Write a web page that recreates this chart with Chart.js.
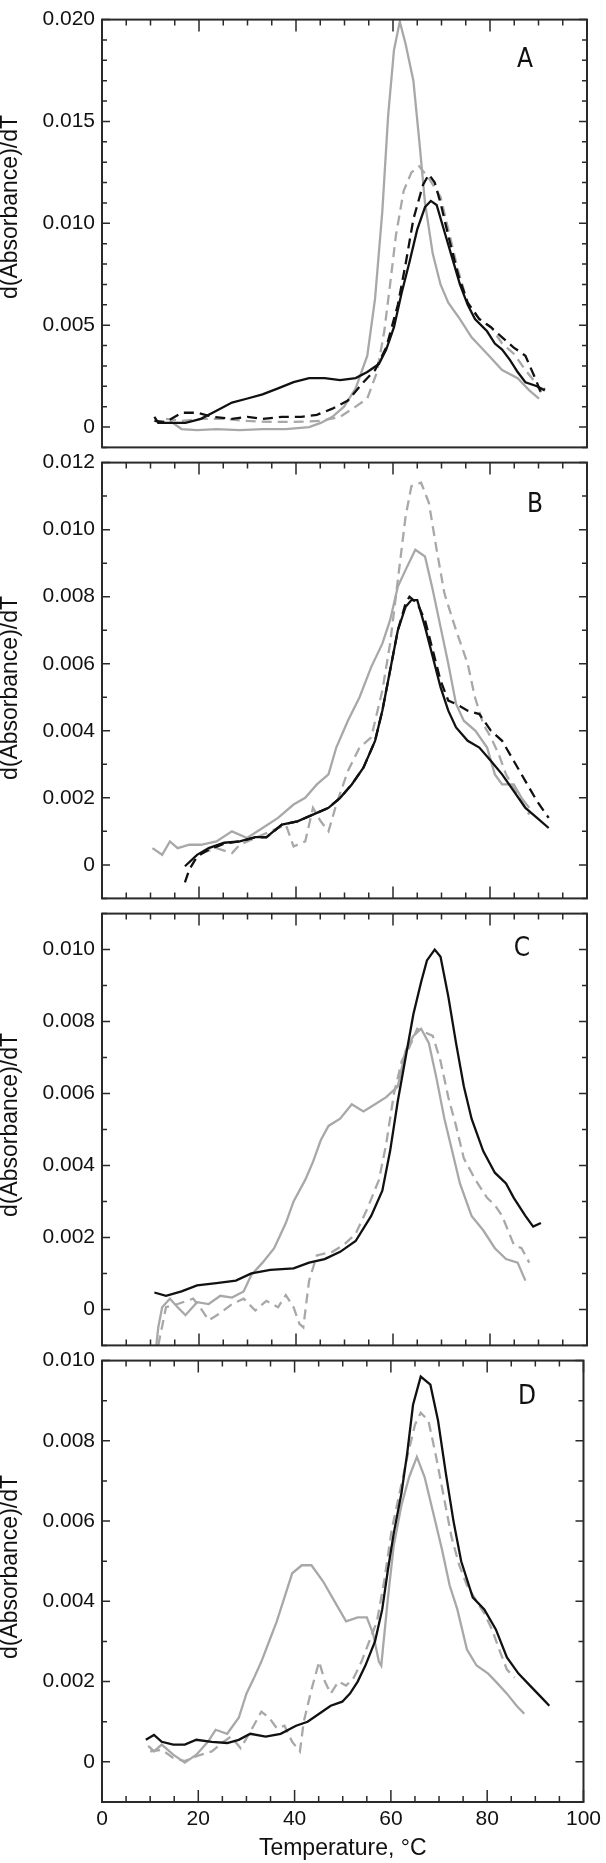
<!DOCTYPE html>
<html>
<head>
<meta charset="utf-8">
<script src="https://cdn.jsdelivr.net/npm/chart.js@4.4.0/dist/chart.umd.min.js"></script>
<style>
  body { margin: 0; background: #fff; }
  #wrap { position: relative; width: 606px; height: 1863px; }
  canvas { position: absolute; left: 0; }
</style>
</head>
<body>
<div id="wrap">
  <canvas id="panelA" width="606" height="467" style="top:0px"></canvas>
  <canvas id="panelB" width="606" height="475" style="top:443px"></canvas>
  <canvas id="panelC" width="606" height="471" style="top:894px"></canvas>
  <canvas id="panelD" width="606" height="522" style="top:1341px"></canvas>
</div>
<script>
// [temperature °C, d(Absorbance)/dT]

// panel A
const aBlack = [[10.8,0.0005],[11.6,0.0002],[14.8,0.0002],[17.2,0.0002],[20.4,0.0004],[23.6,0.0008],[26.8,0.0012],[30,0.0014],[33.1,0.0016],[36.3,0.0019],[39.5,0.0022],[42.7,0.0024],[45.9,0.0024],[49.1,0.0023],[52.3,0.0024],[54.7,0.0027],[57.1,0.0031],[58.6,0.0038],[60.2,0.0049],[61.8,0.0066],[63.4,0.0081],[65,0.0097],[66.6,0.0108],[67.8,0.0111],[69,0.0109],[70.6,0.0096],[72.2,0.0083],[73.8,0.0070],[75.4,0.0060],[76.9,0.0053],[79.4,0.0047],[81,0.0041],[82.5,0.0038],[84.1,0.0033],[85.7,0.0027],[87.3,0.0022],[89.7,0.0020],[91.3,0.0018]];
const aBlackDash = [[10.8,0.0003],[13.2,0.00025],[16.4,0.0007],[19.6,0.0007],[22.8,0.0005],[26.8,0.0004],[30,0.0005],[33.1,0.0004],[37.1,0.0005],[41.1,0.0005],[44.3,0.0006],[47.5,0.0009],[50.7,0.0013],[53.9,0.0022],[56.3,0.0028],[58.6,0.0039],[61,0.0060],[62.6,0.0080],[64.2,0.0102],[66.2,0.0119],[67.4,0.0124],[68.6,0.0120],[69.8,0.0110],[71.4,0.0094],[73.4,0.0075],[75.4,0.0061],[77.8,0.0053],[80.2,0.0049],[82.5,0.0044],[84.9,0.0039],[87.3,0.0035],[89.3,0.0024],[90.5,0.0017],[91.3,0.0019]];
const aGray = [[14,0.0003],[16.4,-0.0001],[19.6,-0.00015],[23.6,-0.0001],[28.4,-0.00015],[33.1,-0.0001],[37.9,-0.0001],[42.7,0],[45.1,0.0002],[47.5,0.0005],[49.9,0.0010],[52.3,0.0019],[54.7,0.0035],[56.3,0.0063],[57.8,0.0106],[59,0.0153],[60.2,0.0185],[61.4,0.0199],[62.6,0.0188],[64.2,0.0170],[65.4,0.0141],[66.6,0.0110],[68.2,0.0085],[69.8,0.0070],[71.4,0.0061],[73.8,0.0053],[76.2,0.0044],[79.4,0.0036],[82.5,0.0028],[85.7,0.0024],[88.1,0.0018],[90.1,0.0014]];
const aGrayDash = [[13.2,0.0004],[16.4,0.0003],[20.4,0.0004],[25.2,0.0004],[30,0.0003],[34.7,0.00025],[39.5,0.00025],[45.1,0.0003],[49.1,0.0005],[52.3,0.0010],[54.7,0.0014],[56.7,0.0027],[58.2,0.0047],[59.4,0.0070],[60.6,0.0094],[62.2,0.0116],[63.8,0.0125],[65.4,0.0128],[67.4,0.0122],[69.8,0.0113],[71.4,0.0097],[73.4,0.0077],[75.4,0.0061],[77.8,0.0053],[80.2,0.0049],[82.5,0.0041],[84.9,0.0036],[87.3,0.0028],[89.3,0.0022],[90.5,0.0017]];

// panel B
const bBlack = [[17.1,-0.00004],[19.6,0.0003],[22,0.0005],[25.2,0.00066],[28.4,0.0007],[31.6,0.00083],[33.9,0.00083],[37.1,0.0012],[40.3,0.0013],[43.5,0.0015],[46.7,0.0017],[49.1,0.0020],[51.5,0.0024],[53.9,0.0029],[56.3,0.0037],[57.8,0.0046],[59.4,0.0058],[61,0.0070],[62.6,0.0077],[63.8,0.0079],[65,0.0079],[66.6,0.0071],[68.2,0.0062],[69.8,0.0053],[71.4,0.0046],[73,0.0041],[75.4,0.0037],[77.8,0.0035],[80.2,0.0031],[82.5,0.0027],[84.9,0.0022],[87.3,0.0017],[89.7,0.0014],[92.1,0.0011]];
const bBlackDash = [[17.1,-0.00052],[18,-0.00014],[19.6,0.00025],[22,0.00045],[25.2,0.00063],[28.4,0.0007],[31.6,0.00082],[33.9,0.00082],[37.1,0.0012],[40.3,0.0013],[43.5,0.0015],[46.7,0.0017],[49.1,0.0020],[51.5,0.0024],[53.9,0.0029],[56.3,0.0037],[57.8,0.0046],[59.4,0.0058],[61,0.0070],[62.6,0.0078],[63.4,0.0080],[65,0.0078],[66.6,0.0073],[68.2,0.0064],[69.8,0.0055],[71.4,0.0049],[73,0.0048],[75.4,0.0046],[77.8,0.0045],[80.2,0.0040],[82.5,0.0037],[84.9,0.0031],[87.3,0.0025],[89.7,0.0019],[92.1,0.0014]];
const bGray = [[10.4,0.0005],[12.4,0.0003],[14,0.0007],[15.6,0.0005],[18,0.0006],[20.4,0.0006],[23.6,0.0007],[26.8,0.0010],[29.9,0.0008],[33.1,0.0011],[36.3,0.0014],[39.5,0.0018],[41.9,0.0020],[44.3,0.0024],[46.7,0.0027],[48.3,0.0035],[50.7,0.0043],[53.1,0.0050],[55.5,0.0059],[57.8,0.0066],[59.4,0.0073],[61,0.0083],[62.6,0.0088],[64.6,0.0094],[66.6,0.0092],[68.2,0.0082],[69.8,0.0071],[71.4,0.0060],[73,0.0048],[74.6,0.0043],[77,0.0040],[79.4,0.0035],[81,0.0027],[82.5,0.0024],[84.9,0.0024],[86.5,0.0020],[88.1,0.0017]];
const bGrayDash = [[20.4,0.00035],[23.6,0.0005],[26.8,0.00035],[28.4,0.0006],[31.6,0.0008],[34.7,0.0010],[37.9,0.0012],[39.5,0.00055],[41.9,0.0007],[43.5,0.0017],[45.1,0.0013],[46.7,0.0010],[48.3,0.0018],[50.7,0.0028],[53.1,0.0035],[55.5,0.0038],[57.8,0.0052],[59.4,0.0066],[61,0.0085],[62.6,0.0104],[63.8,0.0113],[65.8,0.0114],[67.4,0.0108],[69,0.0094],[70.6,0.0081],[73,0.0070],[75.4,0.0060],[76.9,0.0050],[78.6,0.0042],[80.2,0.0038],[81.8,0.0033],[83.3,0.0027],[84.9,0.0023],[86.5,0.0019],[88.1,0.0015]];

// panel C
const cBlack = [[10.8,0.00047],[13.2,0.00038],[16.4,0.0005],[19.6,0.00067],[23.6,0.00073],[27.6,0.0008],[30.8,0.0010],[34.7,0.0011],[39.5,0.00114],[42.7,0.0013],[45.9,0.0014],[49.1,0.0016],[52.3,0.0019],[55.5,0.0026],[57.8,0.0033],[59.4,0.0044],[61,0.0058],[62.6,0.0070],[64.2,0.0082],[65.8,0.0091],[67,0.0097],[68.6,0.0100],[69.8,0.0098],[71.4,0.0087],[73,0.0074],[74.6,0.0062],[76.2,0.0053],[78.6,0.0044],[81,0.0038],[83.3,0.0035],[84.9,0.0031],[87.3,0.0026],[88.9,0.0023],[90.5,0.0024]];
const cGray = [[11.2,-0.001],[11.6,-0.0005],[12.4,0.00006],[14,0.0003],[15.6,0.00006],[17.2,-0.00016],[19.6,0.0002],[22,0.00015],[24.4,0.00038],[26.8,0.00033],[29.2,0.0005],[30.8,0.00096],[33.1,0.0013],[35.5,0.0017],[37.9,0.0024],[39.5,0.0030],[41.9,0.0036],[43.5,0.0041],[45.1,0.0047],[46.7,0.0051],[49.1,0.0053],[51.5,0.0057],[53.9,0.0055],[56.3,0.0057],[58.6,0.0059],[61,0.0062],[62.6,0.0072],[64.2,0.0076],[65.8,0.0078],[67.4,0.0074],[69,0.0064],[70.6,0.0053],[72.2,0.0044],[73.8,0.0035],[76.2,0.0026],[78.6,0.0022],[81,0.0017],[83.3,0.0014],[85.7,0.0013],[87.3,0.0008]];
const cGrayDash = [[11.6,-0.001],[13.2,0.00006],[15.6,0.00015],[18.8,0.0003],[20.4,0.00002],[22,-0.0003],[24.4,-0.0001],[26.8,0.00015],[29.2,0.0003],[31.6,-0.00003],[33.9,0.00024],[36.3,0.00006],[37.9,0.0004],[39.5,0.00006],[40.7,-0.0004],[41.5,-0.0005],[42.7,0.0008],[44.3,0.0015],[47.5,0.0016],[49.9,0.0018],[52.3,0.0021],[54.7,0.0028],[57.1,0.0036],[58.6,0.0046],[60.2,0.0060],[61.8,0.0069],[63.4,0.0073],[65,0.0078],[66.6,0.0077],[68.2,0.0076],[69.8,0.0069],[71.4,0.0059],[73,0.0051],[74.6,0.0042],[77,0.0036],[79.4,0.0031],[81,0.0029],[82.5,0.0026],[84.9,0.0018],[86.5,0.0017],[88.1,0.0013]];

// panel D
const dBlack = [[9.1,0.00055],[10.8,0.00067],[12.4,0.0005],[14.8,0.00043],[17.2,0.00043],[19.6,0.00055],[22.8,0.0005],[26,0.00047],[28.4,0.00055],[30.8,0.0007],[34,0.00063],[37.1,0.0007],[40.3,0.0009],[42.7,0.0010],[45.1,0.0012],[47.5,0.0014],[49.9,0.0015],[51.5,0.0017],[53.1,0.0020],[54.7,0.0024],[56.7,0.0030],[58.2,0.0038],[59.4,0.0048],[60.6,0.0057],[62.2,0.0067],[63.4,0.0077],[64.6,0.0089],[66.2,0.0096],[68.2,0.0094],[69.8,0.0085],[71.4,0.0072],[73,0.0060],[74.6,0.0050],[77,0.0041],[79.4,0.0038],[81.8,0.0033],[84.1,0.0026],[86.5,0.0022],[88.9,0.0019],[91.3,0.0016],[92.9,0.0014]];
const dGray = [[9.6,0.0004],[10.8,0.00026],[12.4,0.00043],[14.8,0.00018],[17.2,-0.00002],[19.6,0.00018],[22,0.0005],[23.6,0.0008],[26,0.0007],[28.4,0.0011],[30,0.0017],[31.6,0.0021],[33.1,0.0025],[34.7,0.0030],[36.3,0.0035],[37.9,0.0041],[39.5,0.0047],[41.5,0.0049],[43.5,0.0049],[45.9,0.0045],[48.3,0.0040],[50.7,0.0035],[53.1,0.0036],[55,0.0036],[56.3,0.0032],[57.5,0.0025],[58,0.0024],[59.4,0.0041],[60.6,0.0054],[62.2,0.0064],[63.8,0.0071],[65.4,0.0076],[67,0.0071],[69,0.0061],[70.6,0.0053],[72.2,0.0044],[73.8,0.0038],[75.8,0.0028],[77.8,0.0024],[80.2,0.0022],[81.8,0.0020],[84.1,0.0017],[86.1,0.0014],[87.7,0.0012]];
const dGrayDash = [[10,0.00026],[12.4,0.0003],[14.8,0.0001],[17.2,0.00002],[19.6,0.00014],[22.8,0.00026],[25.2,0.0005],[26.8,0.00063],[28.8,0.00034],[30.8,0.00075],[33.1,0.00125],[34.7,0.0011],[36.3,0.00084],[37.9,0.0009],[39.5,0.0005],[41.1,0.00026],[41.9,0.0010],[43.5,0.0018],[45.1,0.0025],[46.3,0.0020],[47.5,0.0017],[49.1,0.0020],[50.7,0.0019],[52.3,0.0021],[53.9,0.0025],[55.5,0.0030],[57.1,0.0035],[58.6,0.0045],[60.2,0.0058],[61.8,0.0067],[63.4,0.0076],[65,0.0084],[66.2,0.0087],[67.8,0.0085],[69.4,0.0076],[71,0.0066],[72.6,0.0056],[74.2,0.0049],[75.8,0.0044],[77.8,0.0040],[79.4,0.0037],[81,0.0033],[82.5,0.0028],[84.1,0.0023],[85.7,0.0021]];

const tempTicks = [0, 20, 40, 60, 80, 100];

const BLACK = '#111111';
const GRAY = '#a8a8a8';
const DASH = [10, 6];

function line(points, color, dashed) {
    return {
        data: points.map(p => ({ x: p[0], y: p[1] })),
        borderColor: color,
        borderWidth: 2.3,
        borderDash: dashed ? DASH : [],
        pointRadius: 0,
        tension: 0,
        fill: false
    };
}

// box frame with inward ticks, panel letter and y title
const framePlugin = {
    id: 'frame',
    afterDraw(chart, args, opts) {
        const { ctx, chartArea: a } = chart;
        const x = chart.scales.x, y = chart.scales.y;
        ctx.save();
        ctx.strokeStyle = '#2a2a2a';
        ctx.lineWidth = 2;
        ctx.strokeRect(a.left, a.top, a.right - a.left, a.bottom - a.top);

        ctx.lineWidth = 1.5;
        ctx.beginPath();
        const n = Math.round((y.max - y.min) / 0.001);
        for (let i = 0; i <= n; i++) {
            const v = y.min + i * 0.001;
            const py = y.getPixelForValue(v);
            const r = v / opts.major;
            const len = Math.abs(r - Math.round(r)) < 1e-6 ? 8 : 5;
            ctx.moveTo(a.left, py); ctx.lineTo(a.left + len, py);
            ctx.moveTo(a.right, py); ctx.lineTo(a.right - len, py);
        }
        for (let t = 0; t <= 100; t += 5) {
            const px = x.getPixelForValue(t);
            const len = t % 20 === 0 ? 12 : 6;
            ctx.moveTo(px, a.top); ctx.lineTo(px, a.top + len);
            if (opts.bottomTicks) {
                ctx.moveTo(px, a.bottom); ctx.lineTo(px, a.bottom - len);
            }
        }
        ctx.stroke();

        ctx.fillStyle = '#111';
        ctx.textAlign = 'center';
        ctx.textBaseline = 'middle';
        ctx.font = '26px "DejaVu Sans Condensed", "Liberation Sans Narrow", sans-serif';
        ctx.fillText(opts.letter, opts.letterX, opts.letterY - opts.offset);

        ctx.translate(11, opts.titleY - opts.offset);
        ctx.rotate(-Math.PI / 2);
        ctx.font = '23px "Liberation Sans", Arial, sans-serif';
        ctx.fillText('d(Absorbance)/dT', 0, 0);
        ctx.restore();
    }
};

function makePanel(id, datasets, cfg) {
    const isLast = !!cfg.last;
    new Chart(document.getElementById(id), {
        type: 'line',
        data: { datasets: datasets },
        plugins: [framePlugin],
        options: {
            responsive: false,
            animation: false,
            devicePixelRatio: 1,
            layout: { padding: { left: 0, right: 19, top: 12 - (cfg.trim || 0), bottom: isLast ? 0 : 12 } },
            plugins: {
                legend: { display: false },
                tooltip: { enabled: false },
                frame: cfg.frame
            },
            scales: {
                x: {
                    type: 'linear',
                    min: 0,
                    max: 100,
                    grid: { display: false, drawTicks: false },
                    border: { display: false },
                    afterBuildTicks: isLast ? (s => { s.ticks = tempTicks.map(v => ({ value: v })); }) : undefined,
                    ticks: {
                        display: isLast,
                        padding: 5,
                        color: '#111',
                        maxRotation: 0,
                        font: { family: '"Liberation Sans", Arial, sans-serif', size: 21 }
                    },
                    title: {
                        display: isLast,
                        text: 'Temperature, °C',
                        color: '#111',
                        padding: { top: 0, bottom: 1 },
                        font: { family: '"Liberation Sans", Arial, sans-serif', size: 23 }
                    },
                    afterFit: s => { s.height = isLast ? 61 : 0; }
                },
                y: {
                    min: cfg.min,
                    max: cfg.max,
                    grid: { display: false, drawTicks: false },
                    border: { display: false },
                    ticks: {
                        stepSize: 0.001,
                        autoSkip: false,
                        maxTicksLimit: 100,
                        padding: 7,
                        color: '#111',
                        font: { family: '"Liberation Sans", Arial, sans-serif', size: 21 },
                        callback: v => {
                            const r = v / cfg.frame.major;
                            if (Math.abs(r - Math.round(r)) > 1e-6) return '';
                            return Math.abs(v) < 1e-9 ? '0' : v.toFixed(3);
                        }
                    },
                    afterFit: s => { s.width = 102; }
                }
            }
        }
    });
}

makePanel('panelA', [
    line(aBlack, BLACK, false), line(aBlackDash, BLACK, true),
    line(aGray, GRAY, false), line(aGrayDash, GRAY, true)
], { min: -0.001, max: 0.020, trim: 4,
     frame: { major: 0.005, letter: 'A', letterX: 525, letterY: 60, titleY: 207, offset: 0, bottomTicks: false } });

makePanel('panelB', [
    line(bBlack, BLACK, false), line(bBlackDash, BLACK, true),
    line(bGray, GRAY, false), line(bGrayDash, GRAY, true)
], { min: -0.001, max: 0.012,
     frame: { major: 0.002, letter: 'B', letterX: 535, letterY: 505, titleY: 688, offset: 443, bottomTicks: true } });

makePanel('panelC', [
    line(cBlack, BLACK, false),
    line(cGray, GRAY, false), line(cGrayDash, GRAY, true)
], { min: -0.001, max: 0.011,
     frame: { major: 0.002, letter: 'C', letterX: 522, letterY: 949, titleY: 1125, offset: 894, bottomTicks: true } });

makePanel('panelD', [
    line(dBlack, BLACK, false),
    line(dGray, GRAY, false), line(dGrayDash, GRAY, true)
], { min: -0.001, max: 0.010, last: true,
     frame: { major: 0.002, letter: 'D', letterX: 527, letterY: 1397, titleY: 1567, offset: 1341, bottomTicks: true } });
</script>
</body>
</html>
